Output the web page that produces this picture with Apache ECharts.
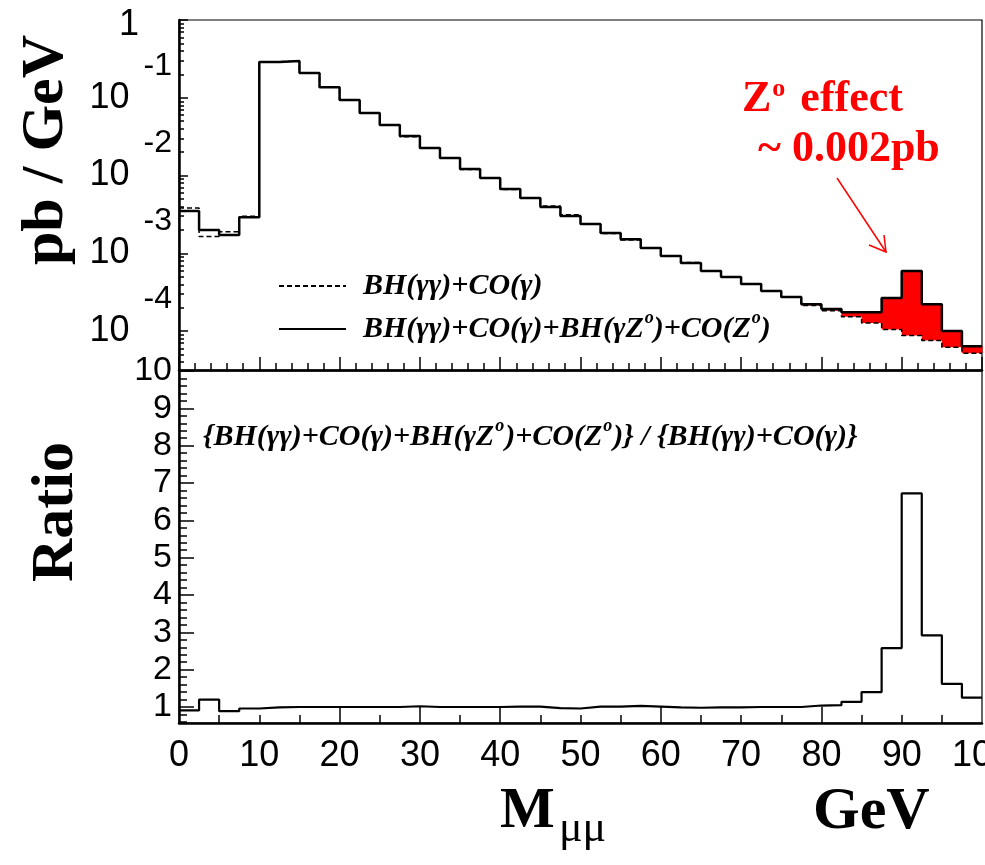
<!DOCTYPE html>
<html>
<head>
<meta charset="utf-8">
<script src="https://cdn.jsdelivr.net/npm/echarts@6/dist/echarts.min.js"></script>
<style>
html, body { margin: 0; padding: 0; background: #fff; }
#chart { width: 985px; height: 865px; }
</style>
</head>
<body>
<div id="chart"></div>
<script>
// bin edges of M(mu mu), GeV
var binEdges = [0, 2.5, 5, 7.5, 10, 12.5, 15, 17.5, 20, 22.5, 25, 27.5, 30, 32.5, 35, 37.5,
    40, 42.5, 45, 47.5, 50, 52.5, 55, 57.5, 60, 62.5, 65, 67.5, 70, 72.5, 75, 77.5,
    80, 82.5, 85, 87.5, 90, 92.5, 95, 97.5, 100];

// BH(γγ)+CO(γ)+BH(γZ)+CO(Z)  (pb/GeV)
var sigmaFull = [3.49e-3, 1.99e-3, 1.72e-3, 2.92e-3, 0.288, 0.297, 0.208, 0.137, 0.0935, 0.0637,
    0.0447, 0.0322, 0.0226, 0.0168, 0.0121, 0.00929, 0.00670, 0.00514, 0.00394, 0.00301,
    0.00238, 0.00182, 0.00152, 0.00117, 9.22e-4, 7.50e-4, 5.91e-4, 4.95e-4, 4.03e-4, 3.27e-4,
    2.74e-4, 2.22e-4, 1.92e-4, 1.75e-4, 1.75e-4, 2.66e-4, 5.91e-4, 2.22e-4, 1.00e-4, 6.41e-5];

// BH(γγ)+CO(γ)  (pb/GeV)
var sigmaQed = [3.82e-3, 1.64e-3, 1.90e-3, 3.00e-3, 0.290, 0.297, 0.208, 0.137, 0.0935, 0.0635,
    0.0446, 0.0316, 0.0226, 0.0167, 0.0120, 0.00925, 0.00663, 0.00509, 0.00406, 0.00313,
    0.00236, 0.00180, 0.00148, 0.00116, 9.30e-4, 7.65e-4, 5.97e-4, 5.00e-4, 4.03e-4, 3.26e-4,
    2.73e-4, 2.14e-4, 1.83e-4, 1.53e-4, 1.27e-4, 1.05e-4, 8.8e-5, 7.6e-5, 6.2e-5, 5.2e-5];

// ratio full / qed
var ratio = [0.91, 1.20, 0.89, 0.96, 0.99, 1.0, 1.0, 1.0, 1.0, 1.0,
    1.0, 1.02, 1.0, 1.0, 1.0, 1.0, 1.01, 1.01, 0.97, 0.96,
    1.01, 1.01, 1.03, 1.01, 0.99, 0.98, 0.99, 0.99, 1.0, 1.0,
    1.0, 1.04, 1.05, 1.14, 1.40, 2.58, 6.72, 2.92, 1.62, 1.25];

var decadeTicks = [1, 0.1, 0.01, 0.001, 0.0001];
var ratioTicks = [1, 2, 3, 4, 5, 6, 7, 8, 9, 10];
var massLabels = [0, 10, 20, 30, 40, 50, 60, 70, 80, 90, 100];
var ratioMassTicks = [20, 30, 40, 60, 80];

var legendQed = 'BH(γγ)+CO(γ)';
var legendFull = 'BH(γγ)+CO(γ)+BH(γZo)+CO(Zo)';

var yLogMin = Math.pow(10, -4.5);
var ratioMin = 0.572;
var zFillFrom = 50;   // red band only drawn in the Z region

// minor tick positions
var logMinor = [];
for (var d = 1e-5; d < 1; d *= 10) {
    for (var k = 2; k <= 9; k++) {
        var v = k * d;
        if (v > yLogMin && v < 1) logMinor.push(v);
    }
}
var ratioMinor = [];
for (var j = 3; j < 50; j++) {
    if (j % 5 !== 0) ratioMinor.push(Math.round(j * 0.2 * 100) / 100);
}
var massMinor = [];
for (var m = 5; m < 100; m += 5) massMinor.push(m);

function stepData(vals) {
    var out = [];
    for (var i = 0; i < vals.length; i++) out.push([binEdges[i], vals[i]]);
    out.push([binEdges[vals.length], vals[vals.length - 1]]);
    return out;
}

var fillData = [];
for (var i = 0; i < sigmaFull.length; i++) {
    if (binEdges[i] >= zFillFrom) fillData.push([binEdges[i], binEdges[i + 1], sigmaQed[i], sigmaFull[i]]);
}

var black = '#000';
var sans = 'Liberation Sans';
var serif = 'Liberation Serif';

var myChart = echarts.init(document.getElementById('chart'));

option = {
    animation: false,
    backgroundColor: '#fff',
    grid: [
        { left: 179, right: 3, top: 20, height: 350, show: true, borderColor: black, borderWidth: 1.2, outerBoundsMode: 'none' },
        { left: 179, right: 3, top: 371, height: 352, show: true, borderColor: black, borderWidth: 1.2, outerBoundsMode: 'none' }
    ],
    xAxis: [
        {
            type: 'value', gridIndex: 0, min: 0, max: 100, interval: 10, position: 'bottom',
            axisLine: { show: true, lineStyle: { color: black, width: 2.5 } },
            axisTick: { show: true, inside: true, length: 13, lineStyle: { color: black, width: 1.5 } },
            minorTick: { show: true, splitNumber: 5, length: 7, lineStyle: { color: black, width: 1.5 } },
            axisLabel: { show: false },
            splitLine: { show: false }
        },
        {
            type: 'value', gridIndex: 1, min: 0, max: 100, interval: 10, position: 'bottom',
            axisLine: { show: true, lineStyle: { color: black, width: 2.5 } },
            axisTick: { show: true, inside: true, length: 16, customValues: ratioMassTicks, lineStyle: { color: black, width: 1.5 } },
            axisLabel: { customValues: massLabels, color: black, fontFamily: sans, fontSize: 36, margin: 15 },
            splitLine: { show: false }
        },
        {
            type: 'value', gridIndex: 1, min: 0, max: 100, position: 'bottom', offset: 0,
            axisLine: { show: false },
            axisTick: { show: true, inside: true, length: 8, customValues: massMinor, lineStyle: { color: black, width: 1.5 } },
            axisLabel: { show: false },
            splitLine: { show: false }
        }
    ],
    yAxis: [
        {
            type: 'log', logBase: 10, gridIndex: 0, min: yLogMin, max: 1, position: 'left',
            axisLine: { show: true, lineStyle: { color: black, width: 2.5 } },
            axisTick: { show: true, inside: true, length: 9, customValues: decadeTicks, lineStyle: { color: black, width: 1.5 } },
            axisLabel: {
                customValues: decadeTicks, margin: 7, color: black, fontFamily: sans, fontSize: 36,
                formatter: function (v) {
                    var n = Math.round(Math.log(v) / Math.LN10);
                    if (n === 0) return '{one|1}';
                    return '{b|10}{e|' + n + '}';
                },
                rich: {
                    one: { fontFamily: sans, fontSize: 36, color: black, padding: [10, 33, 0, 0] },
                    b: { fontFamily: sans, fontSize: 36, color: black, padding: [32, 0, 32, 0] },
                    e: { fontFamily: sans, fontSize: 32, color: black, padding: [0, 0, 64, 14] }
                }
            },
            splitLine: { show: false }
        },
        {
            type: 'log', logBase: 10, gridIndex: 0, min: yLogMin, max: 1, position: 'left', offset: 0,
            axisLine: { show: false },
            axisTick: { show: true, inside: true, length: 5, customValues: logMinor, lineStyle: { color: black, width: 1.5 } },
            axisLabel: { show: false },
            splitLine: { show: false }
        },
        {
            type: 'value', gridIndex: 1, min: ratioMin, max: 10, position: 'left',
            axisLine: { show: true, lineStyle: { color: black, width: 2.5 } },
            axisTick: { show: true, inside: true, length: 15, customValues: ratioTicks, lineStyle: { color: black, width: 1.5 } },
            axisLabel: { customValues: ratioTicks, margin: 7, color: black, fontFamily: sans, fontSize: 34 },
            splitLine: { show: false }
        },
        {
            type: 'value', gridIndex: 1, min: ratioMin, max: 10, position: 'left', offset: 0,
            axisLine: { show: false },
            axisTick: { show: true, inside: true, length: 8, customValues: ratioMinor, lineStyle: { color: black, width: 1.5 } },
            axisLabel: { show: false },
            splitLine: { show: false }
        }
    ],
    legend: {
        orient: 'vertical', left: 273, top: 266, itemWidth: 67, itemHeight: 12, itemGap: 8,
        selectedMode: false,
        data: [legendQed, legendFull],
        itemStyle: { color: 'rgba(0,0,0,0)', borderWidth: 0 },
        formatter: function (name) {
            if (name === legendFull) return 'BH(γγ)+CO(γ)+BH(γZ{s|o})+CO(Z{s|o})';
            return name;
        },
        textStyle: {
            color: black, fontFamily: serif, fontSize: 30, fontWeight: 'bold', fontStyle: 'italic',
            padding: [0, 0, 0, 12],
            rich: {
                s: { color: black, fontFamily: serif, fontSize: 18, fontWeight: 'bold', fontStyle: 'italic', padding: [0, 0, 22, 1] }
            }
        }
    },
    graphic: [
        { type: 'text', x: 46, y: 150, rotation: Math.PI / 2,
          style: { text: 'pb / GeV', fill: black, font: 'bold 60px "Liberation Serif"', align: 'center', verticalAlign: 'middle' } },
        { type: 'text', x: 56, y: 512, rotation: Math.PI / 2,
          style: { text: 'Ratio', fill: black, font: 'bold 60px "Liberation Serif"', align: 'center', verticalAlign: 'middle' } },
        { type: 'text', x: 500, y: 812,
          style: { text: 'M', fill: black, font: 'bold 58px "Liberation Serif"', align: 'left', verticalAlign: 'middle' } },
        { type: 'text', x: 559, y: 829,
          style: { text: 'μμ', fill: black, font: '44px "Liberation Serif"', align: 'left', verticalAlign: 'middle' } },
        { type: 'text', x: 813, y: 812,
          style: { text: 'GeV', fill: black, font: 'bold 60px "Liberation Serif"', align: 'left', verticalAlign: 'middle' } },
        { type: 'text', x: 742, y: 100,
          style: {
              text: 'Z{o|o} effect', fill: '#ff0000', font: 'bold 44px "Liberation Serif"', align: 'left', verticalAlign: 'middle',
              rich: { o: { fill: '#ff0000', font: 'bold 26px "Liberation Serif"', padding: [0, 4, 22, 1] } }
          } },
        { type: 'text', x: 758, y: 150,
          style: { text: '~ 0.002pb', fill: '#ff0000', font: 'bold 44px "Liberation Serif"', align: 'left', verticalAlign: 'middle' } },
        { type: 'line', shape: { x1: 837, y1: 178, x2: 886, y2: 252 }, style: { stroke: '#ff0000', lineWidth: 1.5 } },
        { type: 'polyline', shape: { points: [[869, 245], [886, 252], [884, 235]] }, style: { stroke: '#ff0000', lineWidth: 1.5, fill: null } },
        { type: 'text', x: 203, y: 437,
          style: {
              text: '{BH(γγ)+CO(γ)+BH(γZ{s|o})+CO(Z{s|o})} / {BH(γγ)+CO(γ)}',
              fill: black, font: 'italic bold 30px "Liberation Serif"', align: 'left', verticalAlign: 'middle',
              rich: { s: { fill: black, font: 'italic bold 18px "Liberation Serif"', padding: [0, 1, 22, 1] } }
          } }
    ],
    series: [
        {
            name: 'Z effect',
            type: 'custom',
            xAxisIndex: 0, yAxisIndex: 0, z: 1,
            encode: { x: [0, 1], y: [2, 3] },
            data: fillData,
            renderItem: function (params, api) {
                var lo = api.value(2), hi = api.value(3);
                if (!(hi > lo)) return null;
                var p0 = api.coord([api.value(0), hi]);
                var p1 = api.coord([api.value(1), lo]);
                return {
                    type: 'rect',
                    shape: { x: p0[0], y: p0[1], width: p1[0] - p0[0] + 0.5, height: p1[1] - p0[1] },
                    style: { fill: '#ff0000' }
                };
            }
        },
        {
            name: legendQed,
            type: 'line', step: 'end', symbol: 'none',
            xAxisIndex: 0, yAxisIndex: 0, z: 3,
            lineStyle: { color: black, width: 1.5, type: [5, 3] },
            itemStyle: { color: black },
            data: stepData(sigmaQed)
        },
        {
            name: legendFull,
            type: 'line', step: 'end', symbol: 'none',
            xAxisIndex: 0, yAxisIndex: 0, z: 4,
            lineStyle: { color: black, width: 2.5 },
            itemStyle: { color: black },
            data: stepData(sigmaFull)
        },
        {
            name: 'ratio',
            type: 'line', step: 'end', symbol: 'none',
            xAxisIndex: 1, yAxisIndex: 2, z: 4,
            lineStyle: { color: black, width: 2.2 },
            itemStyle: { color: black },
            data: stepData(ratio)
        }
    ]
};
myChart.setOption(option);
</script>
</body>
</html>
